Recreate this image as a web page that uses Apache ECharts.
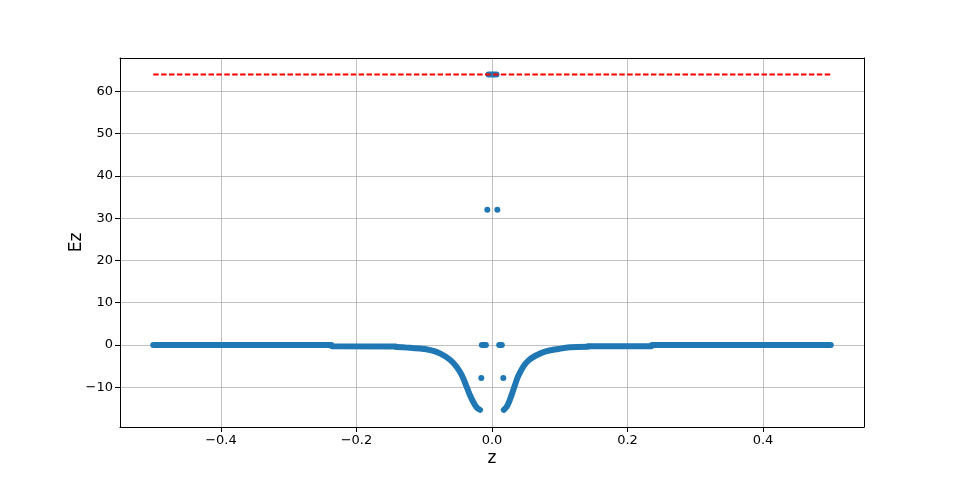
<!DOCTYPE html>
<html>
<head>
<meta charset="utf-8">
<script src="https://cdn.jsdelivr.net/npm/echarts@6/dist/echarts.min.js"></script>
<style>html,body{margin:0;padding:0;background:#fff}#c{width:960px;height:480px}</style>
</head>
<body>
<div id="c"></div>
<script>
// ---- data ----
// flat outer plateaus: [start z, end z] with their Ez level
const leftFlatZ   = [-0.5, -0.237, -0.236, -0.142];
const leftFlatEz  = [-0.02, -0.02, -0.28, -0.33];
const rightFlatZ  = [0.142, 0.235, 0.236, 0.5];
const rightFlatEz = [-0.27, -0.27, -0.02, -0.02];
// curved parts
const leftZ  = [-0.141, -0.125, -0.1063, -0.0915, -0.0768, -0.062, -0.0521, -0.0447, -0.0374, -0.0325, -0.0276, -0.0226, -0.0177];
const leftEz = [-0.5, -0.62, -0.85, -1.2, -1.97, -3.5, -5.2, -7.1, -9.9, -11.9, -13.5, -14.8, -15.35];
const rightZ  = [0.0175, 0.0231, 0.029, 0.0339, 0.0389, 0.0462, 0.0536, 0.0635, 0.0782, 0.098, 0.115, 0.141];
const rightEz = [-15.35, -14.2, -11.8, -9.45, -7.3, -5.1, -3.7, -2.6, -1.57, -0.94, -0.55, -0.42];
// short dense clusters (start, end, value)
const clusterZ0  = [-0.015, -0.009, 0.0106, 0.0145];
const clusterEz0 = [0, 0, 0, 0];
const topClusterZ  = [-0.0052, 0.0066];
const topClusterEz = [64, 64];
// isolated points
const pointZ  = [-0.0069, 0.0079, -0.0158, 0.0167];
const pointEz = [32, 32, -7.8, -7.8];
// reference line
const refZ  = [-0.5, 0.5];
const refEz = [64, 64];
const xTicks = [-0.4, -0.2, 0, 0.2, 0.4];
const yTicks = [-10, 0, 10, 20, 30, 40, 50, 60];

const zip = (a, b) => a.map((v, i) => [v, b[i]]);
const pairs = (a, b) => { const out = []; for (let i = 0; i < a.length; i += 2) { if (i) out.push([null, null]); out.push([a[i], b[i]], [a[i+1], b[i+1]]); } return out; };
const blue = '#1f77b4';
const fmt = (v, d) => (v < 0 ? '\u2212' : '') + Math.abs(v).toFixed(d);
const font = 'DejaVu Sans';

const chart = echarts.init(document.getElementById('c'), null, {renderer: 'canvas'});
const lineSeries = (data, smooth) => ({
  type: 'line', data, showSymbol: false, symbol: 'none', smooth: smooth ? 0.4 : false,
  connectNulls: false,
  lineStyle: {color: blue, width: 6, cap: 'round', join: 'round'}, z: 2, silent: true
});
chart.setOption({
  animation: false,
  textStyle: {fontFamily: font},
  grid: {left: 120, right: 96, top: 58, bottom: 53},
  xAxis: [{
    type: 'value', min: -0.549, max: 0.549,
    axisLine: {show: true, onZero: false, lineStyle: {color: '#000', width: 1}},
    axisTick: {show: true, length: 5, customValues: xTicks, lineStyle: {color: '#000'}},
    axisLabel: {customValues: xTicks, color: '#000', fontSize: 13, margin: 7, fontFamily: font,
                formatter: v => fmt(v, 1)},
    splitLine: {show: true, lineStyle: {color: '#b0b0b0', width: 0.8}},
    name: 'z', nameLocation: 'middle', nameGap: 23, nameMoveOverlap: false,
    nameTextStyle: {fontSize: 17, color: '#000', fontFamily: font}
  }, {
    type: 'value', position: 'top', min: -0.549, max: 0.549,
    axisLine: {show: true, onZero: false, lineStyle: {color: '#000', width: 1}},
    axisTick: {show: false}, axisLabel: {show: false}, splitLine: {show: false}
  }],
  yAxis: [{
    type: 'value', min: -19.4, max: 67.9,
    axisLine: {show: true, onZero: false, lineStyle: {color: '#000', width: 1}},
    axisTick: {show: true, length: 5, customValues: yTicks, lineStyle: {color: '#000'}},
    axisLabel: {customValues: yTicks, color: '#000', fontSize: 13, margin: 7, fontFamily: font,
                formatter: v => fmt(v, 0)},
    splitLine: {show: true, lineStyle: {color: '#b0b0b0', width: 0.8}},
    name: 'Ez', nameLocation: 'middle', nameGap: 35, nameRotate: 90, nameMoveOverlap: false,
    nameTextStyle: {fontSize: 17, color: '#000', fontFamily: font}
  }, {
    type: 'value', position: 'right', min: -19.4, max: 67.9,
    axisLine: {show: true, onZero: false, lineStyle: {color: '#000', width: 1}},
    axisTick: {show: false}, axisLabel: {show: false}, splitLine: {show: false}
  }],
  series: [
    lineSeries(pairs(leftFlatZ, leftFlatEz), false),
    lineSeries(pairs(rightFlatZ, rightFlatEz), false),
    lineSeries(zip(leftZ, leftEz), true),
    lineSeries(zip(rightZ, rightEz), true),
    lineSeries(pairs(clusterZ0, clusterEz0), false),
    lineSeries(zip(topClusterZ, topClusterEz), false),
    {type: 'scatter', data: zip(pointZ, pointEz), symbol: 'circle', symbolSize: 6,
     itemStyle: {color: blue, opacity: 1}, z: 2, silent: true},
    {type: 'line', data: zip(refZ, refEz), showSymbol: false, symbol: 'none',
     lineStyle: {color: '#ff0000', width: 2, type: [5.5, 2.4]}, z: 3, silent: true}
  ]
});
</script>
</body>
</html>
